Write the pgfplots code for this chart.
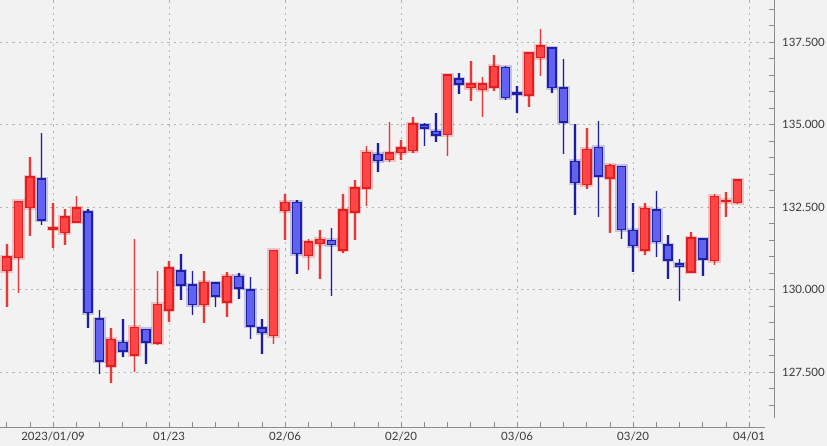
\documentclass[border=0pt]{standalone}
\usepackage{fontspec}
\setmainfont{Lato}
\usepackage{pgfplots}
\usepackage{pgfplotstable}
\pgfplotsset{compat=1.18}

\definecolor{bg}{HTML}{F2F2F2}
\definecolor{border}{HTML}{D9D9D9}
\definecolor{gridgray}{HTML}{B4B4B4}
\definecolor{axisgray}{HTML}{8C8C8C}
\definecolor{labelgray}{HTML}{3A3A3A}
\definecolor{upfill}{HTML}{FF4646}
\definecolor{upline}{HTML}{E21E1E}
\definecolor{upwick}{HTML}{E63A3A}
\definecolor{dnfill}{HTML}{6262F2}
\definecolor{dnline}{HTML}{2020A6}
\definecolor{dnwick}{HTML}{1E1EA0}

% rising days (close >= open), i = trading day index
\pgfplotstableread{
i open high low close
0 130.58 131.38 129.49 131.00
1 130.98 132.70 129.89 132.67
2 132.50 134.03 131.64 133.42
4 131.84 132.64 131.28 131.87
5 131.73 132.45 131.36 132.20
6 132.05 132.85 132.05 132.48
9 127.69 128.84 127.18 128.49
11 128.02 131.54 127.52 128.86
13 128.39 130.58 128.33 129.56
14 129.39 130.86 129.02 130.66
17 129.56 130.58 129.00 130.22
19 129.63 130.55 129.17 130.41
23 128.62 131.21 128.35 131.19
24 132.41 132.90 131.51 132.65
26 131.04 131.53 130.59 131.45
27 131.40 131.81 130.34 131.53
29 131.21 132.90 131.11 132.41
30 132.35 133.32 131.51 133.08
31 133.08 134.35 132.54 134.16
33 133.95 135.09 133.87 134.15
34 134.16 134.54 133.93 134.29
35 134.22 135.24 134.14 135.03
38 134.71 136.53 134.05 136.50
40 136.13 136.92 135.73 136.23
41 136.07 136.46 135.25 136.23
42 136.14 137.12 136.02 136.76
45 135.90 137.21 135.55 137.17
46 137.04 137.91 136.49 137.39
50 133.19 134.90 133.05 134.25
52 133.39 133.81 131.71 133.76
55 131.20 132.62 131.04 132.47
59 130.54 131.76 130.51 131.57
61 130.89 132.89 130.76 132.83
62 132.68 132.95 132.19 132.71
63 132.65 133.35 132.59 133.32
}\upT

% falling days
\pgfplotstableread{
i open high low close
3 133.35 134.75 131.97 132.11
7 132.36 132.44 128.84 129.31
8 129.12 129.39 127.44 127.85
10 128.41 129.11 127.95 128.15
12 128.79 128.82 127.74 128.41
15 130.57 131.09 129.70 130.15
16 130.15 130.56 129.24 129.55
18 130.21 130.25 129.47 129.81
20 130.41 130.51 129.72 130.06
21 130.00 130.39 128.51 128.90
22 128.84 129.10 128.06 128.70
25 132.65 132.72 130.48 131.10
28 131.50 131.88 129.80 131.37
32 134.10 134.46 133.58 133.92
36 134.99 135.05 134.37 134.91
37 134.80 135.37 134.49 134.69
39 136.39 136.56 135.92 136.24
43 136.73 136.78 135.75 135.83
44 135.96 136.18 135.37 135.93
47 137.32 137.32 135.95 136.13
48 136.12 137.00 134.12 135.08
49 133.89 135.03 132.27 133.25
51 134.31 135.12 132.22 133.44
53 133.74 133.74 131.55 131.82
54 131.80 132.64 130.54 131.34
56 132.42 132.99 130.99 131.46
57 131.36 131.67 130.33 130.90
58 130.78 130.94 129.66 130.72
60 131.54 131.57 130.41 130.93
}\dnT

% vertical strokes: colour, width, opacity
\pgfplotsset{
  stroke/.style n args={3}{draw=none, mark=none,
    error bars/.cd, y dir=both, y explicit, error mark=none,
    error bar style={draw=#1, line width=#2, draw opacity=#3, solid}},
}

\begin{document}
\begin{tikzpicture}
\fill[bg] (0,-28bp) rectangle (827bp,418bp);
\begin{axis}[
  name=main, at={(0,0)}, anchor=south west,
  scale only axis, width=765bp, height=418bp,
  xmin=-0.578, xmax=65.37, ymin=126.115, ymax=138.78,
  axis x line=bottom, axis y line=right,
  axis x line shift=9.3bp, axis y line shift=9bp,
  axis line style={draw=axisgray, line width=0.9bp, -},
  xtick={4,14,...,64},
  xticklabels={2023/01/09,01/23,02/06,02/20,03/06,03/20,04/01},
  minor xtick={0,2,...,64},
  ytick={127.5,130,...,137.5},
  minor ytick={126.5,127,...,138.5},
  tick align=inside, major tick length=5.5bp, minor tick length=5.5bp,
  tick style={draw=axisgray, line width=0.8bp},
  grid=major,
  major grid style={draw=gridgray, dash pattern=on 2.2bp off 4bp, line width=0.8bp},
  tick label style={font=\fontsize{11.5}{13}\selectfont, text=labelgray},
  xticklabel style={anchor=north, inner sep=0pt, yshift=-5bp},
  yticklabel style={anchor=west, inner sep=0pt, xshift=8bp,
    /pgf/number format/.cd, fixed, fixed zerofill, precision=3},
  /pgf/number format/assume math mode=true,
]
\draw[border, line width=0.8bp] (rel axis cs:0,0) -- (rel axis cs:1,0) -- (rel axis cs:1,1);

% rising candles
\addplot[stroke={upline}{3.6bp}{0.18}] table[x=i, y=low,
  y error plus expr=\thisrow{high}-\thisrow{low}, y error minus expr=0] {\upT};
\addplot[stroke={upwick}{1.6bp}{1}] table[x=i, y=low,
  y error plus expr=\thisrow{high}-\thisrow{low}, y error minus expr=0] {\upT};
\addplot[stroke={upline}{12.6bp}{0.22}] table[x=i, y expr=(\thisrow{open}+\thisrow{close})/2,
  y error expr=abs(\thisrow{close}-\thisrow{open})/2+0.068] {\upT};
\addplot[stroke={upline}{9.6bp}{1}] table[x=i, y expr=(\thisrow{open}+\thisrow{close})/2,
  y error expr=abs(\thisrow{close}-\thisrow{open})/2+0.023] {\upT};
\addplot[stroke={upfill}{6.6bp}{1}] table[x=i, y expr=(\thisrow{open}+\thisrow{close})/2,
  y error expr={max(abs(\thisrow{close}-\thisrow{open})/2-0.023,0)}] {\upT};

% falling candles
\addplot[stroke={dnline}{3.6bp}{0.18}] table[x=i, y=low,
  y error plus expr=\thisrow{high}-\thisrow{low}, y error minus expr=0] {\dnT};
\addplot[stroke={dnwick}{1.6bp}{1}] table[x=i, y=low,
  y error plus expr=\thisrow{high}-\thisrow{low}, y error minus expr=0] {\dnT};
\addplot[stroke={dnline}{12.6bp}{0.22}] table[x=i, y expr=(\thisrow{open}+\thisrow{close})/2,
  y error expr=abs(\thisrow{close}-\thisrow{open})/2+0.068] {\dnT};
\addplot[stroke={dnline}{9.6bp}{1}] table[x=i, y expr=(\thisrow{open}+\thisrow{close})/2,
  y error expr=abs(\thisrow{close}-\thisrow{open})/2+0.023] {\dnT};
\addplot[stroke={dnfill}{6.6bp}{1}] table[x=i, y expr=(\thisrow{open}+\thisrow{close})/2,
  y error expr={max(abs(\thisrow{close}-\thisrow{open})/2-0.023,0)}] {\dnT};
\end{axis}
\pgfresetboundingbox
\path[use as bounding box] ([yshift=-28bp]main.south west) rectangle ([xshift=62bp]main.north east);
\end{tikzpicture}
\end{document}
